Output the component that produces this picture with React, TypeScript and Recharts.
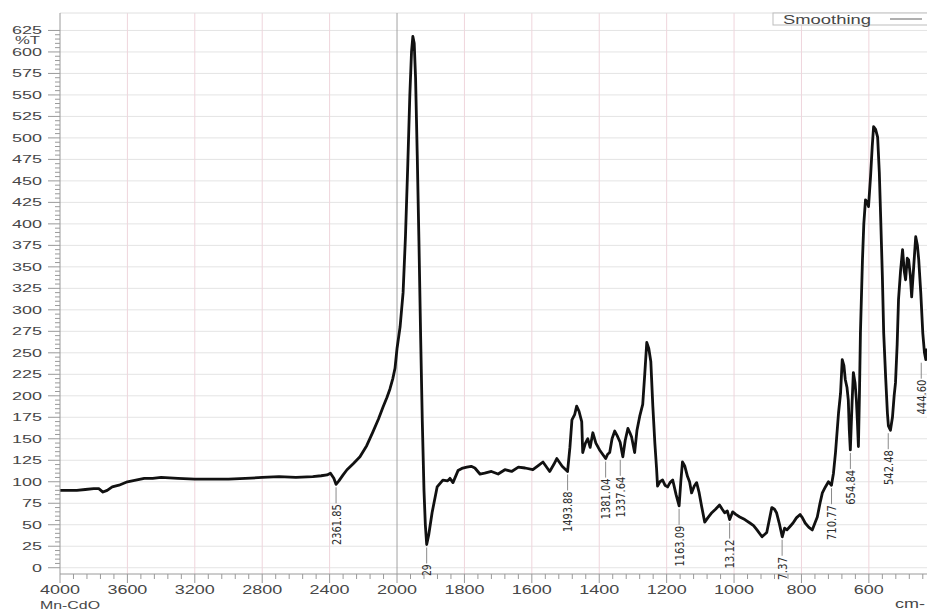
import { ComposedChart, Line, Scatter, XAxis, YAxis, CartesianGrid, ReferenceLine } from "recharts";

// FTIR spectrum of Mn-CdO
const wavenumbers = [
  4000, 3950, 3900, 3850, 3800, 3770, 3745, 3720, 3690, 3650, 3600, 3550, 3500, 3450, 3400, 3300, 3200, 3100, 3000,
  2900, 2800, 2700, 2600, 2500, 2450, 2415, 2395, 2375, 2362, 2345, 2320, 2297, 2260, 2220, 2180, 2143, 2110, 2083,
  2060, 2042, 2025, 2012, 2000, 1991, 1982, 1975, 1968, 1962, 1957, 1953, 1949, 1945, 1940, 1935, 1930, 1925, 1920,
  1916, 1912, 1906, 1896, 1881, 1864, 1850, 1843, 1834, 1819, 1805, 1793, 1780, 1769, 1754, 1740, 1720, 1700, 1680,
  1660, 1640, 1620, 1597, 1580, 1567, 1547, 1535, 1526, 1510, 1494, 1487, 1481, 1473, 1467, 1460, 1452, 1449, 1441,
  1434, 1427, 1419, 1410, 1399, 1390, 1381, 1375, 1369, 1362, 1354, 1346, 1338, 1330, 1323, 1315, 1309, 1304, 1295,
  1288, 1280, 1271, 1265, 1259, 1253, 1247, 1241, 1235, 1230, 1227, 1220, 1212, 1205, 1197, 1190, 1182, 1172, 1163,
  1158, 1153, 1146, 1138, 1132, 1126, 1118, 1111, 1104, 1096, 1087, 1078, 1066, 1055, 1043, 1035, 1028, 1020, 1013,
  1004, 995, 983, 968, 953, 942, 932, 917, 903, 888, 880, 874, 866, 857, 850, 843, 834, 825, 815, 804, 797, 789, 778,
  768, 760, 753, 745, 738, 729, 720, 711, 705, 699, 690, 684, 679, 674, 670, 665, 661, 658, 655, 650, 646, 641, 637,
  634, 631, 628, 625, 619, 615, 610, 605, 601, 595, 590, 586, 580, 574, 569, 565, 560, 556, 550, 545, 542, 536, 530,
  525, 521, 516, 512, 506, 500, 495, 491, 486, 482, 477, 473, 467, 461, 456, 452, 446, 440, 435, 431, 428,
];

const transmittance = [
  90, 90, 90, 91, 92, 92, 88, 90, 94, 96, 100, 102, 104, 104, 105, 104, 103, 103, 103,
  104, 105, 106, 105, 106, 107, 108, 110, 104, 97, 101, 108, 114, 121, 129, 142, 158, 173, 187,
  198, 208, 220, 232, 255, 280, 320, 385, 470, 550, 600, 618, 610, 570, 480, 380, 270, 170, 90,
  50, 27, 38, 64, 94, 102, 101, 104, 99, 113, 116, 117, 118, 116, 109, 110, 112, 109, 114,
  112, 117, 116, 114, 119, 123, 112, 120, 127, 118, 112, 140, 172, 178, 188, 182, 170, 134, 145,
  150, 140, 157, 145, 137, 132, 127, 132, 134, 150, 159, 153, 146, 129, 148, 162, 157, 152, 134,
  160, 176, 190, 225, 262, 255, 240, 188, 145, 116, 95, 100, 102, 96, 94, 99, 102, 85, 72,
  100, 123, 118, 106, 100, 87, 95, 99, 88, 71, 53, 58, 64, 68, 73, 68, 64, 66, 56,
  65, 62, 59, 56, 52, 49, 44, 36, 41, 70, 68, 64, 52, 36, 46, 44, 48, 52, 58, 62, 58, 52, 47,
  44, 52, 59, 75, 87, 94, 100, 96, 110, 134, 180, 203, 242, 235, 219, 210, 195, 160, 137, 190, 227, 215, 195,
  170, 141, 200, 273, 358, 400, 428, 425, 420, 455, 490, 513, 510, 501, 460, 408, 340, 273, 220, 180, 165, 160, 175,
  200, 215, 260, 312, 345, 370, 345, 335, 360, 358, 340, 315, 350, 385, 375, 358, 320, 273, 250, 242, 255,
];

const peakWavenumbers = [2361.85, 1912, 1493.88, 1381.04, 1337.64, 1163.09, 1013.12, 857.37, 710.77, 654.84, 542.48, 444.6];
const peakValues = [97, 27, 112, 127, 129, 72, 56, 36, 96, 137, 160, 242];
const peakLabels = ["2361.85", "29", "1493.88", "1381.04", "1337.64", "1163.09", "13.12", "7.37", "710.77", "654.84", "542.48", "444.60"];

const xMajorTicks = [4000, 3600, 3200, 2800, 2400, 2000, 1800, 1600, 1400, 1200, 1000, 800, 600];
const yMajorTicks = [0, 25, 50, 75, 100, 125, 150, 175, 200, 225, 250, 275, 300, 325, 350, 375, 400, 425, 450, 475, 500, 525, 550, 575, 600, 625];

// the x axis is expanded 2x below 2000 cm-1
const toPos = (wn: number) => (wn >= 2000 ? 4000 - wn : 2000 + (2000 - wn) * 2);
const fromPos = (p: number) => (p <= 2000 ? 4000 - p : 2000 - (p - 2000) / 2);

const spectrum = wavenumbers.map((wn, i) => ({ pos: toPos(wn), t: transmittance[i] }));
const peaks = peakWavenumbers.map((wn, i) => ({ pos: toPos(wn), t: peakValues[i], label: peakLabels[i] }));

const xMinorTicks = Array.from({ length: 65 }, (_, i) => i * 80);
const yMinorTicks = Array.from({ length: 126 }, (_, i) => i * 5);
const majorPos = xMajorTicks.map(toPos);
const gridPos = xMajorTicks.filter((wn) => wn !== 4000 && wn !== 2000).map(toPos);

const textColor = "#474747";
const tickColor = "#9a9a9a";

const XTick = ({ x, y, payload }: any) => {
  const major = majorPos.includes(payload.value);
  const label = String(Math.round(fromPos(payload.value)));
  return (
    <g>
      <line x1={x} x2={x} y1={y} y2={y + (major ? 9 : 5)} stroke={tickColor} />
      {major && (
        <text x={x} y={y + 16} dy="0.35em" textAnchor="middle" fontSize={12} fill={textColor}
          fontFamily="Liberation Sans, Arial, sans-serif" textLength={label.length * 10} lengthAdjust="spacingAndGlyphs">
          {label}
        </text>
      )}
    </g>
  );
};

const YTick = ({ x, y, payload }: any) => {
  const major = yMajorTicks.includes(payload.value);
  const label = String(payload.value);
  return (
    <g>
      <line x1={x - (major ? 12 : 5)} x2={x} y1={y} y2={y} stroke={tickColor} />
      {major && (
        <text x={x - 18} y={y} dy="0.35em" textAnchor="end" fontSize={11} fill={textColor}
          fontFamily="Liberation Sans, Arial, sans-serif" textLength={label.length * 10} lengthAdjust="spacingAndGlyphs">
          {label}
        </text>
      )}
    </g>
  );
};

// thin leader line under each marked band, with the value written upwards
const PeakMarker = ({ cx, cy, payload }: any) => {
  const top = cy + 20;
  return (
    <g>
      <line x1={cx} x2={cx} y1={cy + 3} y2={top - 1} stroke="#8a8a8a" strokeWidth={1} />
      <text x={cx} y={top} dy="0.36em" textAnchor="end" transform={`rotate(-90 ${cx} ${top})`}
        fontSize={13} fill="#2e2e2e" fontFamily="Liberation Sans Narrow, DejaVu Sans Condensed, Arial, sans-serif"
        textLength={payload.label.length * 5.8} lengthAdjust="spacingAndGlyphs">
        {payload.label}
      </text>
    </g>
  );
};

export default function App() {
  return (
    <div style={{ position: "absolute", left: 0, top: 0, width: 927, height: 610, background: "#fff" }}>
      <ComposedChart width={927} height={610} data={spectrum} margin={{ top: 13, right: 0, bottom: 0, left: 0 }}>
        <CartesianGrid horizontal vertical={false} horizontalValues={yMajorTicks} stroke="#e4e4e4" />
        <CartesianGrid horizontal={false} vertical verticalValues={gridPos} stroke="#efd5dc" />
        <ReferenceLine y={645.3} stroke="#e0e0e0" />
        <ReferenceLine x={2000} stroke="#a3a3a3" />
        <XAxis type="number" dataKey="pos" domain={[0, 5145]} ticks={xMinorTicks} interval={0}
          tick={<XTick />} tickSize={0} tickMargin={0} tickLine={false} height={36} stroke={tickColor} />
        <YAxis type="number" domain={[-7.3, 645.3]} ticks={yMinorTicks} interval={0}
          tick={<YTick />} tickSize={0} tickMargin={0} tickLine={false} width={60} stroke={tickColor} />
        <Line type="linear" dataKey="t" stroke="#111" strokeWidth={2.8} strokeLinejoin="round" dot={false} isAnimationActive={false} />
        <Scatter data={peaks} dataKey="t" shape={<PeakMarker />} isAnimationActive={false} />
      </ComposedChart>
      <svg width={927} height={610} style={{ position: "absolute", left: 0, top: 0, pointerEvents: "none" }}
        fontFamily="Liberation Sans, Arial, sans-serif">
        <text x={40} y={44} textAnchor="end" fontSize={10} fill={textColor} textLength={25} lengthAdjust="spacingAndGlyphs">%T</text>
        <text x={40} y={609} fontSize={11} fill={textColor} textLength={60} lengthAdjust="spacingAndGlyphs">Mn-CdO</text>
        <text x={895} y={608} fontSize={12} fill={textColor} textLength={30} lengthAdjust="spacingAndGlyphs">cm-</text>
        <rect x={773} y={13} width={160} height={12} fill="#fff" stroke="#bdbdbd" />
        <text x={783} y={23.5} fontSize={12} fill={textColor} textLength={88} lengthAdjust="spacingAndGlyphs">Smoothing</text>
        <line x1={890} x2={922} y1={19} y2={19} stroke="#b0b0b0" strokeWidth={2} />
      </svg>
    </div>
  );
}
